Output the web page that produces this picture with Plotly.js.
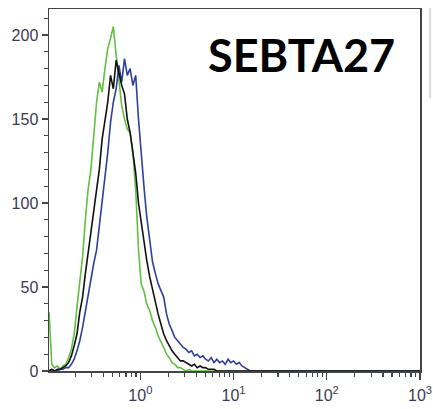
<!DOCTYPE html>
<html>
<head>
<meta charset="utf-8">
<script src="https://cdn.plot.ly/plotly-3.0.1.min.js"></script>
<style>html,body{margin:0;padding:0;background:#fff;}</style>
</head>
<body>
<div id="chart" style="width:433px;height:409px;"></div>
<script>
// Fluorescence channel (log scale) shared by all three histograms
const channel = [0.105,0.112,0.120,0.129,0.138,0.148,0.158,0.170,0.182,0.195,
  0.209,0.224,0.240,0.257,0.275,0.295,0.316,0.339,0.363,0.389,
  0.417,0.447,0.479,0.513,0.550,0.589,0.631,0.676,0.724,0.776,
  0.832,0.891,0.955,1.02,1.10,1.17,1.26,1.35,1.45,1.55,
  1.66,1.78,1.91,2.04,2.19,2.34,2.51,2.69,2.88,3.09,
  3.31,3.55,3.80,4.07,4.37,4.68,5.01,5.37,5.75,6.17,
  6.61,7.08,7.59,8.13,8.71,9.33,10.0,10.7,11.5,12.3,
  13.2,14.1,15.1,16.2,17.4,1000];

const greenCounts = [35,4,2,3,1,3,4,8,13,22,
  38,55,68,90,108,120,138,160,172,166,
  180,192,198,205,188,172,158,150,144,142,
  130,108,72,52,47,40,36,30,26,21,
  17,14,10,8,5,4,2,2,1,0,
  1,0,0,0,0,0,0,0,0,0,
  0,0,0,0,0,0,0,0,0,0,
  0,0,0,0,0,0];

const blackCounts = [0,1,0,1,1,2,3,5,9,15,
  22,35,44,58,70,84,96,110,120,138,
  150,160,176,168,185,178,170,165,150,142,
  128,118,100,88,76,66,56,48,40,34,
  28,22,18,15,12,10,8,6,6,5,
  4,3,4,2,3,2,2,1,1,1,
  0,0,0,0,0,0,0,0,0,0,
  0,0,0,0,0,0];

const blueCounts = [0,1,0,0,1,1,2,2,4,7,
  12,18,26,36,45,55,64,72,86,100,
  118,130,148,160,168,182,172,186,176,180,
  170,176,150,128,108,92,76,65,58,52,
  48,44,34,28,24,20,18,16,14,13,
  11,12,9,10,8,9,7,6,8,5,
  7,5,6,4,7,5,6,4,5,3,
  2,1,0,0,0,0];

const xTickVals = [1, 10, 100, 1000];
const xTickText = ['10<sup>0</sup>', '10<sup>1</sup>', '10<sup>2</sup>', '10<sup>3</sup>'];
const xMinorVals = [0.2,0.3,0.4,0.5,0.6,0.7,0.8,0.9,
  2,3,4,5,6,7,8,9,20,30,40,50,60,70,80,90,200,300,400,500,600,700,800,900];
const yTickVals = [0, 50, 100, 150, 200];
const titleText = 'SEBTA27';

const traces = [
  {x: channel, y: greenCounts, mode: 'lines', line: {color: '#62c040', width: 1.6}},
  {x: channel, y: blueCounts, mode: 'lines', line: {color: '#2f3f9e', width: 1.6}},
  {x: channel, y: blackCounts, mode: 'lines', line: {color: '#111111', width: 1.6}}
];

const tickFont = {family: 'Arial, Liberation Sans, sans-serif', size: 16, color: '#3b3b4f'};

const layout = {
  width: 433, height: 409,
  margin: {l: 49, r: 13, t: 9, b: 38, pad: 0},
  paper_bgcolor: '#ffffff', plot_bgcolor: '#ffffff',
  showlegend: false,
  xaxis: {
    type: 'log', range: [-0.98, 3],
    tickmode: 'array', tickvals: xTickVals, ticktext: xTickText,
    ticks: 'outside', ticklen: 7, tickwidth: 1.3, tickcolor: '#444',
    ticklabelstandoff: 2, ticklabeloverflow: 'allow',
    showline: true, linecolor: '#444', linewidth: 1.5, mirror: true,
    showgrid: false, zeroline: false, tickfont: tickFont,
    minor: {tickmode: 'array', tickvals: xMinorVals, ticks: 'outside', ticklen: 4, tickwidth: 1.2, tickcolor: '#444', showgrid: false}
  },
  yaxis: {
    range: [0, 215.5],
    tickmode: 'array', tickvals: yTickVals,
    ticks: 'outside', ticklen: 6, tickwidth: 1.3, tickcolor: '#444',
    ticklabeloverflow: 'allow',
    showline: true, linecolor: '#444', linewidth: 1.5, mirror: true,
    showgrid: false, zeroline: false, tickfont: tickFont,
    minor: {dtick: 10, tick0: 0, ticks: 'outside', ticklen: 3.5, tickwidth: 1.2, tickcolor: '#444', showgrid: false}
  },
  annotations: [{
    text: '<b>' + titleText + '</b>', xref: 'paper', yref: 'paper',
    x: 0.424, y: 0.874, xanchor: 'left', yanchor: 'middle', showarrow: false,
    font: {family: 'Lato, Open Sans, sans-serif', size: 45, color: '#000'}
  }],
  shapes: [{
    type: 'line', xref: 'paper', yref: 'paper', x0: 1.027, x1: 1.027, y0: 1.003, y1: 0.754,
    line: {color: '#cfcfcf', width: 1.5}
  }]
};

Plotly.newPlot('chart', traces, layout, {staticPlot: true, displayModeBar: false});
</script>
</body>
</html>
